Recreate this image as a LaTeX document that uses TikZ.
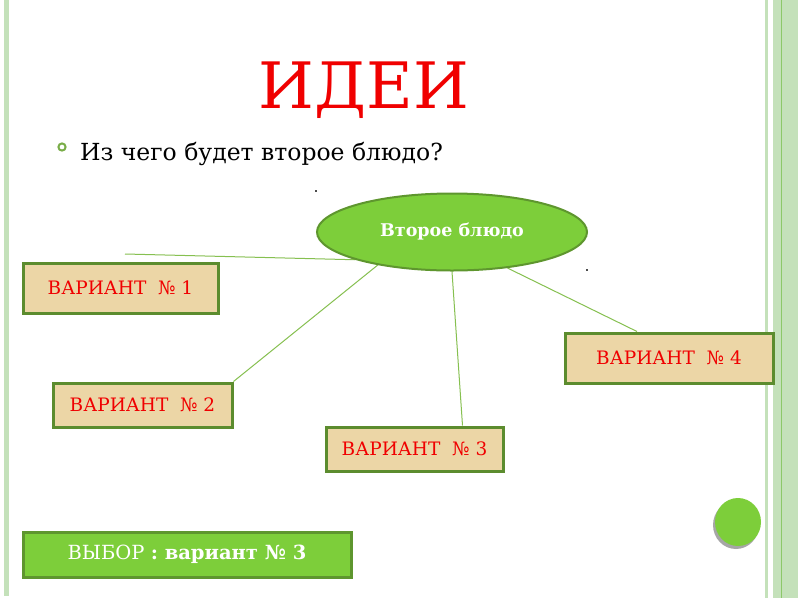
\documentclass[tikz,border=0pt]{standalone}
\usepackage{fontspec}
\setmainfont{DejaVu Serif}
\usetikzlibrary{shapes.geometric}
\pgfdeclarelayer{background}
\pgfdeclarelayer{foreground}
\pgfsetlayers{background,main,foreground}
\definecolor{barGreen}{RGB}{196,225,186}
\definecolor{barLine}{RGB}{140,200,105}
\definecolor{limeFill}{RGB}{125,206,58}
\definecolor{limeEdge}{RGB}{94,150,46}
\definecolor{papyrus}{RGB}{236,214,166}
\definecolor{boxEdge}{RGB}{92,140,46}
\definecolor{linkGreen}{RGB}{134,192,80}
\definecolor{titleRed}{RGB}{240,0,0}
\tikzset{
  variant/.style={draw=boxEdge, line width=3pt, fill=papyrus, text=titleRed,
    font=\fontsize{18.5}{22}\selectfont, inner sep=0pt},
  link/.style={draw=linkGreen, line width=1pt},
  choice/.style={draw=limeEdge, line width=3pt, fill=limeFill, text=white,
    font=\fontsize{19.5}{23}\selectfont, inner sep=0pt}
}
\begin{document}
\begin{tikzpicture}[x=1pt,y=-1pt]
\useasboundingbox (0,0) rectangle (800,600);
\begin{pgfonlayer}{background}
\fill[white] (0,0) rectangle (800,600);
\fill[barGreen] (4,0) rectangle (9,596);
\fill[barGreen] (765,0) rectangle (768,598);
\fill[barGreen] (773,0) rectangle (798,598);
\draw[barLine, line width=1pt] (781,0) -- (781,598);
\end{pgfonlayer}
\node[anchor=base, text=titleRed, font=\fontsize{64}{70}\selectfont] (title) at (364,108) {ИДЕИ};
\draw[linkGreen!90!black, line width=2pt] (62,147) circle (3.6);
\node[anchor=base west, font=\fontsize{23.5}{28}\selectfont, inner sep=0pt] (question) at (80,160) {Из чего будет второе блюдо?};
\node[ellipse, draw=limeEdge, line width=2pt, fill=limeFill, text=white,
  minimum width=270, minimum height=77, inner sep=0pt,
  font=\bfseries\fontsize{17.5}{21}\selectfont] (dish) at (452,232) {Второе блюдо};
\node[variant, minimum width=195, minimum height=50] (v1) at (120.5,288) {ВАРИАНТ~~№~1};
\node[variant, minimum width=179, minimum height=44] (v2) at (142.5,405) {ВАРИАНТ~~№~2};
\node[variant, minimum width=177, minimum height=44] (v3) at (414.5,449) {ВАРИАНТ~~№~3};
\node[variant, minimum width=208, minimum height=50] (v4) at (669,358) {ВАРИАНТ~~№~4};
\node[choice, minimum width=328, minimum height=45] (pick) at (187,554.5) {ВЫБОР \textbf{: вариант №~3}};
\coordinate (stub) at (125,254);
\begin{pgfonlayer}{background}
\draw[link] (dish.196) -- (stub);
\draw[link] (dish.204) -- (v2.north east);
\draw[link] (dish.south) -- ([xshift=48]v3.north);
\draw[link] (dish.327) -- ([xshift=-32]v4.north);
\end{pgfonlayer}
\fill[black!70] (315,190) rectangle (317,192);
\fill[black!70] (586,269) rectangle (588,271);
\fill[black!35] (736,525) ellipse (23 and 24);
\fill[limeFill] (738,522) ellipse (23 and 24);
\end{tikzpicture}
\end{document}
